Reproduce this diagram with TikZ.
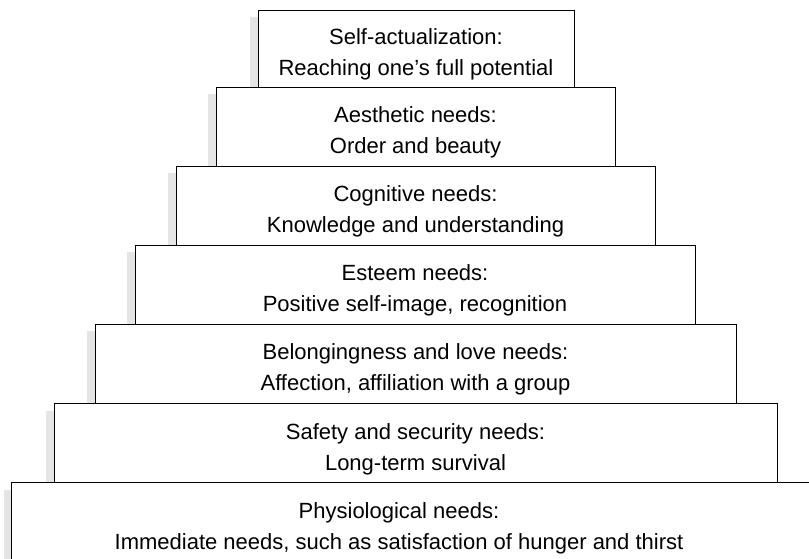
\documentclass[tikz,border=0pt]{standalone}
\usepackage{fontspec}
\setmainfont{Liberation Sans}
\usetikzlibrary{shadows}
\newcommand\needstrut{\rule{0pt}{28pt}}

\begin{document}
\begin{tikzpicture}
        [x=1pt,y=-1pt,every node/.style={rectangle,draw,fill=white,line width=.9pt,
          minimum height=79pt,inner sep=0pt,align=center,
          font=\fontsize{22}{31}\selectfont,
          drop shadow={shadow xshift=-8pt,shadow yshift=-7pt,fill=black!10,opacity=1}}]
        \useasboundingbox (0,0) rectangle (809,559);
        \clip (0,0) rectangle (809,559);
        \node[minimum width=316pt,minimum height=77pt] (selfact) at (416,48.5)
            {\needstrut Self-actualization:\\Reaching one’s full potential};
        \node[minimum width=399pt] (aesthetic) at (415.5,126.5)
            {\needstrut Aesthetic needs:\\Order and beauty};
        \node[minimum width=479pt] (cognitive) at (415.5,205.5)
            {\needstrut Cognitive needs:\\Knowledge and understanding};
        \node[minimum width=560pt] (esteem) at (415,284.5)
            {\needstrut Esteem needs:\\Positive self-image, recognition};
        \node[minimum width=641pt] (belonging) at (415.5,363.5)
            {\needstrut Belongingness and love needs:\\Affection, affiliation with a group};
        \node[minimum width=723pt] (safety) at (415.5,443)
            {\needstrut Safety and security needs:\\Long-term survival};
        % bottom box runs off the right edge
        \node[draw=none,minimum width=774pt] (physio) at (399,522.5)
            {\needstrut Physiological needs:\\Immediate needs, such as satisfaction of hunger and thirst};
        \draw[line width=.9pt] (physio.north east) ++(40,0) -- (physio.north west) -- (physio.south west);
    \end{tikzpicture}
\end{document}
